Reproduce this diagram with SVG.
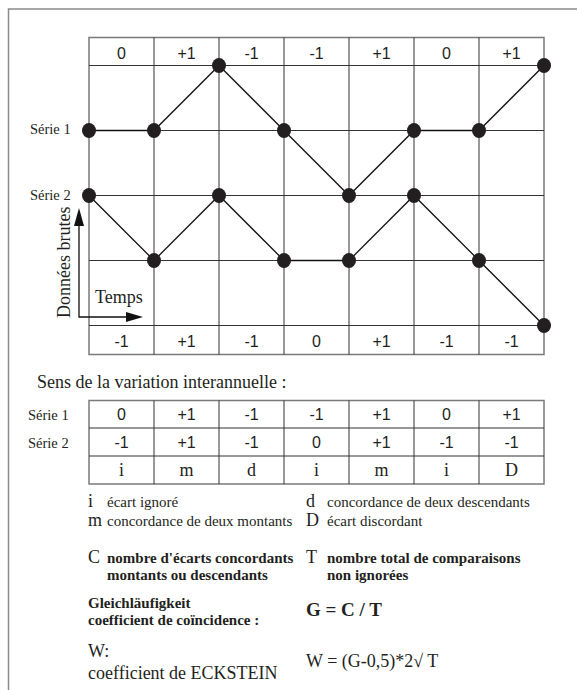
<svg xmlns="http://www.w3.org/2000/svg" width="577" height="690" viewBox="0 0 577 690">
<style>
.frame{fill:none;stroke:#8a8a8a;stroke-width:1.5}
.border{fill:none;stroke:#7a7a7a;stroke-width:1.5}
.inner{stroke:#333;stroke-width:1}
.series{fill:none;stroke:#111;stroke-width:1.3}
.dot{fill:#231f20}
.num{font-family:"Liberation Sans",Arial,sans-serif;font-size:16px;fill:#231f20;text-anchor:middle}
.lab{font-family:"Liberation Serif","Times New Roman",serif;font-size:14.5px;fill:#231f20}
.let{font-family:"Liberation Serif","Times New Roman",serif;font-size:18px;fill:#231f20;text-anchor:middle}
.leg{font-family:"Liberation Serif","Times New Roman",serif;font-size:15px;fill:#231f20}
.big{font-family:"Liberation Serif","Times New Roman",serif;font-size:18px;fill:#231f20}
.bd{font-family:"Liberation Serif","Times New Roman",serif;font-size:15px;font-weight:bold;fill:#231f20}
.bigb{font-family:"Liberation Serif","Times New Roman",serif;font-size:19px;font-weight:bold;fill:#231f20}
.axis{stroke:#111;stroke-width:1.3;fill:none}
.head{fill:#111}
</style>
<rect width="577" height="690" fill="#fff"/>
<path class="frame" d="M8.5,690 V9 H577"/>

<g id="chart-grid">
  <rect class="border" x="89" y="37.5" width="455" height="317"/>
  <path class="inner" d="M89,65.5H544M89,130.5H544M89,195.5H544M89,260.5H544M89,325.5H544M154,37.5V354.5M219,37.5V354.5M284,37.5V354.5M349,37.5V354.5M414,37.5V354.5M479,37.5V354.5"/>
</g>

<g id="header-top">
  <text class="num" x="121.5" y="59">0</text>
  <text class="num" x="186.5" y="59">+1</text>
  <text class="num" x="251.5" y="59">-1</text>
  <text class="num" x="316.5" y="59">-1</text>
  <text class="num" x="381.5" y="59">+1</text>
  <text class="num" x="446.5" y="59">0</text>
  <text class="num" x="511.5" y="59">+1</text>
</g>
<g id="header-bottom">
  <text class="num" x="121.5" y="347">-1</text>
  <text class="num" x="186.5" y="347">+1</text>
  <text class="num" x="251.5" y="347">-1</text>
  <text class="num" x="316.5" y="347">0</text>
  <text class="num" x="381.5" y="347">+1</text>
  <text class="num" x="446.5" y="347">-1</text>
  <text class="num" x="511.5" y="347">-1</text>
</g>

<g id="labels">
  <text class="lab" x="30" y="134">Série 1</text>
  <text class="lab" x="30" y="200">Série 2</text>
  <text class="big" transform="translate(70,318) rotate(-90)">Données brutes</text>
  <text class="big" font-size="17.5" x="95" y="303">Temps</text>
</g>

<g id="axes">
  <path class="axis" d="M79,226V317H128"/>
  <path class="head" d="M79,208L74,226H84Z"/>
  <path class="head" d="M143,317L126,312V322Z"/>
</g>

<g id="connectors">
  <polyline class="series" points="89,130.5 154,130.5 219,65.5 284,130.5 349,195.5 414,130.5 479,130.5 544,65.5"/>
  <polyline class="series" points="89,195.5 154,260.5 219,195.5 284,260.5 349,260.5 414,195.5 479,260.5 544,325.5"/>
</g>

<g id="serie1-points">
  <g id="s1p0"><ellipse class="dot" cx="89" cy="130.5" rx="7" ry="7.5"/></g>
  <g id="s1p1"><ellipse class="dot" cx="154" cy="130.5" rx="7" ry="7.5"/></g>
  <g id="s1p2"><ellipse class="dot" cx="219" cy="65.5" rx="7" ry="7.5"/></g>
  <g id="s1p3"><ellipse class="dot" cx="284" cy="130.5" rx="7" ry="7.5"/></g>
  <g id="s1p4"><ellipse class="dot" cx="349" cy="195.5" rx="7" ry="7.5"/></g>
  <g id="s1p5"><ellipse class="dot" cx="414" cy="130.5" rx="7" ry="7.5"/></g>
  <g id="s1p6"><ellipse class="dot" cx="479" cy="130.5" rx="7" ry="7.5"/></g>
  <g id="s1p7"><ellipse class="dot" cx="544" cy="65.5" rx="7" ry="7.5"/></g>
</g>
<g id="serie2-points">
  <g id="s2p0"><ellipse class="dot" cx="89" cy="195.5" rx="7" ry="7.5"/></g>
  <g id="s2p1"><ellipse class="dot" cx="154" cy="260.5" rx="7" ry="7.5"/></g>
  <g id="s2p2"><ellipse class="dot" cx="219" cy="195.5" rx="7" ry="7.5"/></g>
  <g id="s2p3"><ellipse class="dot" cx="284" cy="260.5" rx="7" ry="7.5"/></g>
  <g id="s2p4"><ellipse class="dot" cx="349" cy="260.5" rx="7" ry="7.5"/></g>
  <g id="s2p5"><ellipse class="dot" cx="414" cy="195.5" rx="7" ry="7.5"/></g>
  <g id="s2p6"><ellipse class="dot" cx="479" cy="260.5" rx="7" ry="7.5"/></g>
  <g id="s2p7"><ellipse class="dot" cx="544" cy="325.5" rx="7" ry="7.5"/></g>
</g>

<g id="variation-table">
  <text class="big" font-size="17" x="37" y="388">Sens de la variation interannuelle :</text>
  <rect class="border" x="89" y="400.5" width="455" height="83.5"/>
  <path class="inner" d="M89,428H544M89,456H544M154,400.5V484M219,400.5V484M284,400.5V484M349,400.5V484M414,400.5V484M479,400.5V484"/>
  <text class="lab" x="28" y="420">Série 1</text>
  <text class="lab" x="28" y="448">Série 2</text>
  <text class="num" x="121.5" y="420">0</text>
  <text class="num" x="186.5" y="420">+1</text>
  <text class="num" x="251.5" y="420">-1</text>
  <text class="num" x="316.5" y="420">-1</text>
  <text class="num" x="381.5" y="420">+1</text>
  <text class="num" x="446.5" y="420">0</text>
  <text class="num" x="511.5" y="420">+1</text>
  <text class="num" x="121.5" y="448">-1</text>
  <text class="num" x="186.5" y="448">+1</text>
  <text class="num" x="251.5" y="448">-1</text>
  <text class="num" x="316.5" y="448">0</text>
  <text class="num" x="381.5" y="448">+1</text>
  <text class="num" x="446.5" y="448">-1</text>
  <text class="num" x="511.5" y="448">-1</text>
  <text class="let" x="121.5" y="476">i</text>
  <text class="let" x="186.5" y="476">m</text>
  <text class="let" x="251.5" y="476">d</text>
  <text class="let" x="316.5" y="476">i</text>
  <text class="let" x="381.5" y="476">m</text>
  <text class="let" x="446.5" y="476">i</text>
  <text class="let" x="511.5" y="476">D</text>
</g>

<g id="legend">
  <text class="big" x="88" y="507">i</text>
  <text class="leg" x="107" y="507">écart ignoré</text>
  <text class="big" x="306" y="507">d</text>
  <text class="leg" x="327" y="507">concordance de deux descendants</text>
  <text class="big" x="88" y="526">m</text>
  <text class="leg" x="107" y="526">concordance de deux montants</text>
  <text class="big" x="306" y="526">D</text>
  <text class="leg" x="327" y="526">écart discordant</text>

  <text class="big" x="88" y="563">C</text>
  <text class="bd" x="107" y="563">nombre d'écarts concordants</text>
  <text class="bd" x="107" y="580">montants ou descendants</text>
  <text class="big" x="306" y="563">T</text>
  <text class="bd" x="327" y="563">nombre total de comparaisons</text>
  <text class="bd" x="327" y="580">non ignorées</text>

  <text class="bd" x="88" y="608">Gleichläufigkeit</text>
  <text class="bd" x="88" y="625">coefficient de coïncidence :</text>
  <text class="bigb" x="306" y="616">G = C / T</text>

  <text class="big" x="88" y="657">W:</text>
  <text class="big" x="88" y="679">coefficient de ECKSTEIN</text>
  <text class="big" x="306" y="667">W = (G-0,5)*2√ T</text>
</g>
</svg>
